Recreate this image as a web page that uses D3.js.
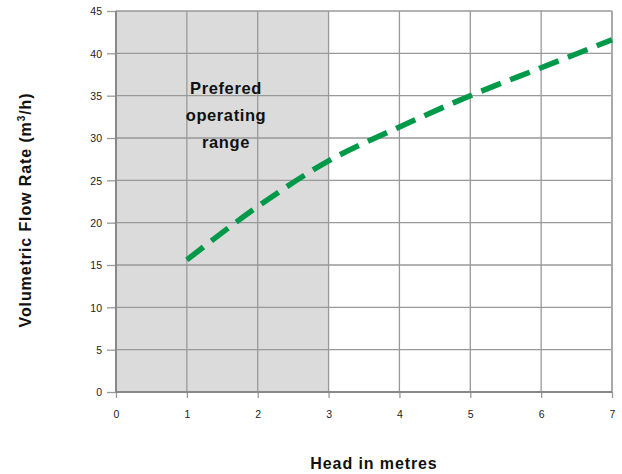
<!DOCTYPE html>
<html><head><meta charset="utf-8">
<script src="https://cdn.jsdelivr.net/npm/d3@7"></script>
<style>
html,body{margin:0;padding:0;background:#fff;}
svg{display:block;font-family:"Liberation Sans",Arial,Helvetica,sans-serif;}
</style></head>
<body>
<svg id="chart" width="622" height="474"></svg>
<script>
// Data
const headValues = [1, 2, 3, 4, 5, 6, 7];
const flowValues = [15.6, 21.9, 27.3, 31.3, 35.0, 38.3, 41.6];
const xTicks = [0, 1, 2, 3, 4, 5, 6, 7];
const yTicks = [0, 5, 10, 15, 20, 25, 30, 35, 40, 45];
const rangeBand = [0, 3];
const annotationLines = ["Prefered", "operating", "range"];
const xTitle = "Head in metres";

const svg = d3.select("#chart");
const m = {left: 116, right: 10, top: 11, bottom: 82};
const W = 622, H = 474;
const x = d3.scaleLinear().domain([0, 7]).range([m.left, W - m.right]);
const y = d3.scaleLinear().domain([0, 45]).range([H - m.bottom, m.top]);

// shaded preferred range
svg.append("rect")
  .attr("x", x(rangeBand[0])).attr("y", y(45))
  .attr("width", x(rangeBand[1]) - x(rangeBand[0]))
  .attr("height", y(0) - y(45))
  .attr("fill", "#dbdbdb");

// gridlines
svg.append("g").selectAll("line").data(xTicks.filter(d => d > 0 && d < 7)).join("line")
  .attr("x1", d => x(d)).attr("x2", d => x(d)).attr("y1", y(45)).attr("y2", y(0))
  .attr("stroke", "#999").attr("stroke-width", 1.3);
svg.append("g").selectAll("line").data(yTicks.filter(d => d > 0)).join("line")
  .attr("x1", x(0)).attr("x2", x(7)).attr("y1", d => y(d)).attr("y2", d => y(d))
  .attr("stroke", "#999").attr("stroke-width", 1.3);
// right border
svg.append("line").attr("x1", x(7)).attr("x2", x(7)).attr("y1", y(45)).attr("y2", y(0))
  .attr("stroke", "#aaa").attr("stroke-width", 2);

// axes
const xAxis = d3.axisBottom(x).tickValues(xTicks).tickSize(6).tickPadding(13).tickFormat(d3.format("d"));
const yAxis = d3.axisLeft(y).tickValues(yTicks).tickSize(9).tickPadding(5).tickFormat(d3.format("d"));
const gx = svg.append("g").attr("transform", `translate(0,${y(0)})`).call(xAxis);
const gy = svg.append("g").attr("transform", `translate(${x(0)},0)`).call(yAxis);
[gx, gy].forEach(g => {
  g.select(".domain").remove();
  g.selectAll(".tick line").attr("stroke", "#999").attr("stroke-width", 1.3);
  g.selectAll(".tick text").attr("fill", "#222").style("font-size", "10.5px")
    .style("font-family", '"Liberation Sans",Arial,sans-serif');
});
gy.selectAll(".tick text").attr("dy", "0.35em");
// axis lines
svg.append("line").attr("x1", x(0)).attr("x2", x(0)).attr("y1", y(45)).attr("y2", y(0) + 1)
  .attr("stroke", "#888").attr("stroke-width", 2);
svg.append("line").attr("x1", x(0)).attr("x2", x(7)).attr("y1", y(0)).attr("y2", y(0))
  .attr("stroke", "#888").attr("stroke-width", 2);

// curve
const line = d3.line().x((d, i) => x(headValues[i])).y(d => y(d)).curve(d3.curveMonotoneX);
svg.append("path").datum(flowValues)
  .attr("d", line).attr("fill", "none")
  .attr("stroke", "#00994a").attr("stroke-width", 5.5)
  .attr("stroke-dasharray", "21,10");

// annotation
const ann = svg.append("text").attr("text-anchor", "middle")
  .style("font-weight", "bold").style("font-size", "16.5px").style("letter-spacing", "0.6px")
  .attr("fill", "#111");
annotationLines.forEach((t, i) => {
  ann.append("tspan").attr("x", 226).attr("y", 94 + i * 27).text(t);
});

// axis titles
svg.append("text").attr("x", 374).attr("y", 469).attr("text-anchor", "middle")
  .style("font-weight", "bold").style("font-size", "16px").style("letter-spacing", "0.9px")
  .attr("fill", "#111").text(xTitle);

const yt = svg.append("text").attr("transform", "translate(31,210) rotate(-90)")
  .attr("text-anchor", "middle")
  .style("font-weight", "bold").style("font-size", "16px").style("letter-spacing", "0.9px")
  .attr("fill", "#111");
yt.append("tspan").text("Volumetric Flow Rate  (m");
yt.append("tspan").attr("dy", "-6").style("font-size", "10px").text("3");
yt.append("tspan").attr("dy", "6").text("/h)");
</script>
</body></html>
